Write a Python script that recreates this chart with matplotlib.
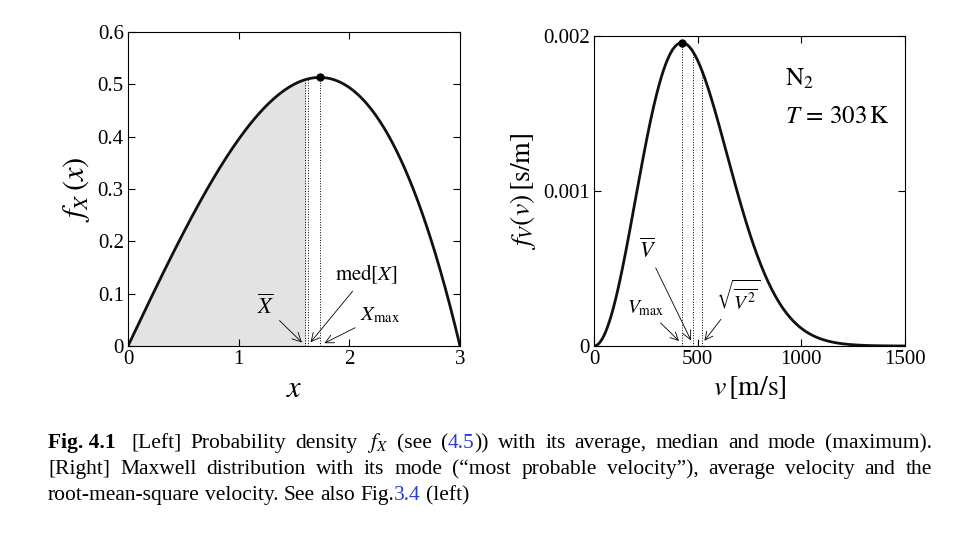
import numpy as np
import matplotlib
matplotlib.use("Agg")
import matplotlib.pyplot as plt

plt.rcParams['font.family'] = ['Liberation Serif', 'DejaVu Serif']
plt.rcParams['mathtext.fontset'] = 'stix'

# Left panel: density f_X(x) = 4x(9-x^2)/81 on [0,3]
x_min, x_max = 0.0, 3.0
left_xticks = [0, 1, 2, 3]
left_yticks = [0, 0.1, 0.2, 0.3, 0.4, 0.5, 0.6]
# Right panel: Maxwell distribution, N2 at T=303 K
T = 303.0
mass_amu = 28.0
right_xticks = [0, 500, 1000, 1500]
right_yticks = [0, 0.001, 0.002]

def fX(x):
    return 4 * x * (9 - x**2) / 81

x = np.linspace(x_min, x_max, 400)
mean_x = 1.6
med_x = np.sqrt(9 - np.sqrt(81 - 40.5))
mode_x = np.sqrt(3)

kB = 1.380649e-23
m = mass_amu * 1.66054e-27
a = m / (2 * kB * T)
def fV(v):
    return 4 * np.pi * (a / np.pi)**1.5 * v**2 * np.exp(-a * v**2)
v = np.linspace(0, 1500, 600)
v_mp = np.sqrt(1 / a)
v_mean = 2 / np.sqrt(np.pi * a)
v_rms = np.sqrt(1.5 / a)

fig = plt.figure(figsize=(9.7, 5.39), dpi=100)
W, H = 970, 539
ax1 = fig.add_axes([128/W, 1-346/H, 332/W, 314/H])
ax2 = fig.add_axes([594/W, 1-346/H, 311/W, 310/H])

for ax in (ax1, ax2):
    ax.tick_params(direction='in', top=True, right=True, labelsize=15, length=5, pad=3)
    for s in ax.spines.values():
        s.set_linewidth(0.8)

ax1.plot(x, fX(x), color='#111111', lw=2)
xs = x[x <= mean_x]
ax1.fill_between(np.append(xs, mean_x), 0, fX(np.append(xs, mean_x)), color='#e3e3e3')
for xv in (mean_x, med_x, mode_x):
    ax1.plot([xv, xv], [0, fX(xv)], color='k', lw=0.7, ls=':')
ax1.plot([mode_x], [fX(mode_x)], 'o', color='k', ms=5)
ax1.set_xlim(0, 3); ax1.set_ylim(0, 0.6)
ax1.set_xticks(left_xticks); ax1.set_yticks(left_yticks)
ax1.set_xticklabels([str(t) for t in left_xticks])
ax1.set_yticklabels(['0', '0.1', '0.2', '0.3', '0.4', '0.5', '0.6'])
ax1.set_xlabel(r'$x$', fontsize=22)
ax1.set_ylabel(r'$f_X\,(x)$', fontsize=22)
ap = dict(arrowstyle='->', lw=0.6, color='k')
ax1.annotate(r'$\overline{X}$', xy=(mean_x - 0.01, 0.003), xytext=(1.17, 0.06), fontsize=16, arrowprops=ap)
ax1.annotate(r'$\mathrm{med}[X]$', xy=(med_x + 0.01, 0.003), xytext=(1.87, 0.125), fontsize=15, arrowprops=ap)
ax1.annotate(r'$X_{\mathrm{max}}$', xy=(mode_x + 0.02, 0.003), xytext=(2.1, 0.05), fontsize=15, arrowprops=ap)

ax2.plot(v, fV(v), color='#111111', lw=2)
for vv in (v_mp, v_mean, v_rms):
    ax2.plot([vv, vv], [0, fV(vv)], color='k', lw=0.7, ls=':')
ax2.plot([v_mp], [fV(v_mp)], 'o', color='k', ms=5)
ax2.set_xlim(0, 1500); ax2.set_ylim(0, 0.002)
ax2.set_xticks(right_xticks); ax2.set_yticks(right_yticks)
ax2.set_yticklabels(['0', '0.001', '0.002'])
ax2.set_xlabel(r'$v\,[\mathrm{m/s}]$', fontsize=20)
ax2.set_ylabel(r'$f_V(v)\,[\mathrm{s/m}]$', fontsize=20)
ax2.annotate(r'$\overline{V}$', xy=(v_mean - 5, 0.00002), xytext=(215, 0.00057), fontsize=16, arrowprops=ap)
ax2.annotate(r'$V_{\mathrm{max}}$', xy=(v_mp - 5, 0.00002), xytext=(160, 0.00021), fontsize=14, arrowprops=ap)
ax2.annotate(r'$\sqrt{\overline{V^2}}$', xy=(v_rms + 5, 0.00002), xytext=(590, 0.00023), fontsize=14, arrowprops=ap)
ax2.text(920, 0.00168, r'$\mathrm{N}_2$', fontsize=18)
ax2.text(920, 0.00144, r'$T\,=\,303\,\mathrm{K}$', fontsize=18)

# Caption, justified between x0 and x1 (pixels)
x0, x1 = 48, 932
fs = 15.5
blue = '#2a3cd6'
lines = [
    (448, [('Fig. 4.1', 'k', 'bold')], [('[Left]', 'k'), ('Probability', 'k'), ('density', 'k'), (r'$f_X$', 'k'),
      ('(see', 'k'), ('(', 'k', '4.5', '))'), ('with', 'k'), ('its', 'k'), ('average,', 'k'), ('median', 'k'), ('and', 'k'),
      ('mode', 'k'), ('(maximum).', 'k')], True),
    (474, [], [(w, 'k') for w in '[Right] Maxwell distribution with its mode (“most probable velocity”), average velocity and the'.split()], True),
    (500, [], [(w, 'k') for w in 'root-mean-square velocity. See also'.split()] + [('Fig.', 'k', '3.4', ''), ('(left)', 'k')], False),
]
fig.canvas.draw()
r = fig.canvas.get_renderer()

def width(s, weight='normal'):
    t = fig.text(0, 0, s, fontsize=fs, fontweight=weight)
    w = t.get_window_extent(r).width
    t.remove()
    return w

for y, lead, words, just in lines:
    yy = 1 - y / H
    xpos = x0
    if lead:
        s, c, wt = lead[0]
        fig.text(xpos / W, yy, s, fontsize=fs, fontweight=wt, va='baseline')
        xpos += width(s, wt) + 16
    pieces = []
    for wd in words:
        if len(wd) == 4:
            pieces.append([(wd[0], 'k'), (wd[2], blue), (wd[3], 'k')])
        else:
            pieces.append([(wd[0], 'k')])
    wsz = [sum(width(p[0]) for p in pc if p[0]) for pc in pieces]
    space = width('a b') - width('ab')
    gap = (x1 - xpos - sum(wsz)) / (len(pieces) - 1) if just else space
    for pc, w in zip(pieces, wsz):
        xx = xpos
        for s, c in pc:
            if s:
                fig.text(xx / W, yy, s, fontsize=fs, color=c, va='baseline')
                xx += width(s)
        xpos += w + gap

fig.savefig('out.png', dpi=100)
